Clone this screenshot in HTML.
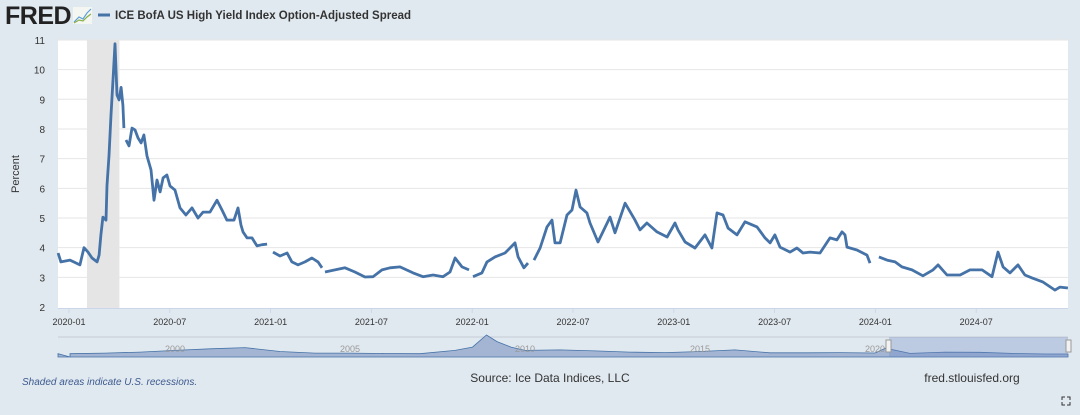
<!DOCTYPE html>
<html><head><meta charset="utf-8">
<style>
html,body{margin:0;padding:0;}
body{width:1080px;height:415px;background:#e1e9f0;font-family:"Liberation Sans",sans-serif;position:relative;overflow:hidden;}
svg{position:absolute;left:0;top:0;}
</style></head>
<body>
<svg width="1080" height="415">
  <g>
    <text x="5" y="24" font-size="25" font-weight="900" fill="#222" font-family="Liberation Sans" letter-spacing="-0.5">FRED</text>
    <g>
      <rect x="73" y="7" width="19" height="17" fill="#f4f6f2"/>
      <polyline points="74,22 79,17 83,19 87,13 91,9" fill="none" stroke="#5fa0d8" stroke-width="1.2"/>
      <polyline points="74,23 79,20 83,21 87,17 91,14" fill="none" stroke="#8ab04a" stroke-width="1.2"/>
    </g>
    <line x1="98" y1="15" x2="110" y2="15" stroke="#4572a7" stroke-width="3"/>
    <text x="115" y="19" font-size="11.5" font-weight="bold" fill="#333">ICE BofA US High Yield Index Option-Adjusted Spread</text>
  </g>
  <rect x="58" y="40" width="1010" height="268" fill="#fff"/>
  <g id="grid"></g>
  <rect id="recession" fill="#e5e5e5"/>
  <g id="yticks"></g>
  <g id="xticks"></g>
  <text x="0" y="0" transform="translate(19,174) rotate(-90)" text-anchor="middle" font-size="11" fill="#333">Percent</text>
  <path id="series" fill="none" stroke="#4572a7" stroke-width="2.8" stroke-linejoin="round"/>
  <line x1="58" y1="308.5" x2="1068" y2="308.5" stroke="#ccd6eb"/>
  <g>
    <rect x="58" y="335" width="1010" height="22" fill="#e1e9f0"/>
    <line x1="58" y1="337" x2="1068" y2="337" stroke="#c8ccd4"/>
    <path id="navArea" fill="#a3b5d3" stroke="#4572a7" stroke-width="0.8"/>
    <g id="navLabels"></g>
    <rect x="889" y="337" width="179" height="20" fill="rgba(102,133,194,0.3)"/>
    <rect x="886" y="340" width="5" height="12" fill="#f2f2f2" stroke="#999"/>
    <rect x="1066" y="340" width="5" height="12" fill="#f2f2f2" stroke="#999"/>
  </g>
  <text x="22" y="385" font-size="10" font-style="italic" fill="#3d5a8f">Shaded areas indicate U.S. recessions.</text>
  <text x="550" y="382" font-size="12" text-anchor="middle" fill="#333">Source: Ice Data Indices, LLC</text>
  <text x="972" y="382" font-size="12" text-anchor="middle" fill="#333">fred.stlouisfed.org</text>
  <g stroke="#333" stroke-width="1" fill="none">
    <polyline points="1062,400 1062,397 1065,397"/><polyline points="1067,397 1070,397 1070,400"/>
    <polyline points="1062,402 1062,405 1065,405"/><polyline points="1067,405 1070,405 1070,402"/>
  </g>
</svg>
<script>
// months since 2020-01
const months = [-0.65,-0.48,0.06,0.65,0.89,1.13,1.37,1.67,1.79,1.90,2.02,2.20,2.26,2.38,2.50,2.62,2.74,2.86,2.98,3.10,3.21,3.27,3.33,3.39,3.57,3.75,3.93,4.11,4.29,4.46,4.64,4.88,5.06,5.24,5.42,5.60,5.83,6.01,6.31,6.61,6.96,7.32,7.68,7.98,8.39,8.81,9.11,9.40,9.82,10.06,10.24,10.36,10.60,10.89,11.19,11.49,11.79,11.95,12.14,12.56,12.98,13.27,13.63,14.05,14.46,14.82,15.06,15.15,15.24,15.83,16.43,17.02,17.62,18.10,18.63,19.11,19.70,20.48,21.07,21.67,22.26,22.68,22.98,23.39,23.81,23.93,24.05,24.58,24.88,25.36,25.95,26.55,26.73,27.08,27.32,27.50,27.68,28.04,28.45,28.75,28.93,29.23,29.64,29.94,30.18,30.42,30.83,31.01,31.49,32.20,32.50,33.10,33.69,33.99,34.40,35.00,35.60,36.07,36.25,36.67,37.26,37.86,38.27,38.57,38.93,39.23,39.76,40.24,40.95,41.43,41.73,42.02,42.32,42.92,43.33,43.69,44.11,44.70,45.30,45.71,46.01,46.19,46.31,46.90,47.50,47.68,47.83,47.98,48.10,48.21,48.69,49.17,49.58,50.18,50.83,51.43,51.73,52.26,53.04,53.63,54.35,54.94,55.30,55.60,56.01,56.49,56.90,57.32,57.98,58.69,58.99,59.46];
const spread = [3.82,3.52,3.58,3.42,4.0,3.85,3.65,3.52,3.75,4.43,5.03,4.93,6.1,7.1,8.47,9.65,10.87,9.15,8.98,9.4,8.8,8.03,null,7.63,7.43,8.03,7.97,7.7,7.53,7.8,7.09,6.62,5.6,6.28,5.88,6.35,6.45,6.08,5.94,5.34,5.1,5.34,5.0,5.2,5.2,5.6,5.27,4.93,4.93,5.34,4.76,4.53,4.33,4.33,4.06,4.1,4.12,null,3.85,3.72,3.82,3.52,3.42,3.52,3.65,3.52,3.32,null,3.18,3.25,3.32,3.18,3.01,3.02,3.25,3.32,3.35,3.15,3.02,3.08,3.02,3.18,3.65,3.35,3.25,null,3.02,3.15,3.52,3.69,3.82,4.16,3.69,3.32,3.48,null,3.58,3.99,4.7,4.93,4.16,4.16,5.1,5.27,5.94,5.37,5.17,4.83,4.19,5.03,4.5,5.5,4.93,4.6,4.83,4.53,4.36,4.83,4.6,4.19,3.99,4.43,3.99,5.17,5.1,4.66,4.43,4.87,4.7,4.33,4.16,4.43,4.02,3.85,3.99,3.82,3.85,3.82,4.33,4.26,4.53,4.43,4.02,3.92,3.75,3.48,null,3.32,null,3.69,3.58,3.52,3.35,3.25,3.05,3.25,3.42,3.08,3.08,3.25,3.25,3.02,3.85,3.35,3.15,3.42,3.08,2.98,2.84,2.57,2.67,2.64];
const yTicks = [2,3,4,5,6,7,8,9,10,11];
const xTickLabels = ["2020-01","2020-07","2021-01","2021-07","2022-01","2022-07","2023-01","2023-07","2024-01","2024-07"];
const xTickMonths = [0,6,12,18,24,30,36,42,48,54];
const recession = [1.07,3.0];
const navYears = [1997,1998,1999,2000,2001,2002,2003,2004,2005,2006,2007,2008,2008.5,2008.9,2009.2,2009.6,2010,2011,2012,2013,2014,2015,2016,2017,2018,2019,2020,2020.3,2021,2022,2023,2024,2024.9];
const navValues = [3,3.5,4.5,6,7.5,8.5,5,3.5,3.5,3.2,3,6,9,20,14,9,6,6.5,5.5,4.5,4,5,6.5,3.8,3.8,4,3.6,8,3.3,4.5,4.3,3.2,2.7];
const navLabelYears = [2000,2005,2010,2015,2020];

const NS="http://www.w3.org/2000/svg";
const xS = m => 69 + m*16.8;
const yS = v => 307 - (v-2)*29.67;
const nx = yr => 70 + (yr-1997)*35;
const ny = v => 357 - v*1.1;
function mk(tag, attrs, parent){const e=document.createElementNS(NS,tag);for(const k in attrs)e.setAttribute(k,attrs[k]);parent.appendChild(e);return e;}

const grid=document.getElementById('grid'), yt=document.getElementById('yticks'), xt=document.getElementById('xticks');
yTicks.forEach(v=>{
  if(v>2){const l=mk('line',{x1:58,x2:1068,y1:yS(v),y2:yS(v),stroke:'#e6e6e6','stroke-width':1},grid);
  
  }
  const t=mk('text',{x:45,y:yS(v)+4,'font-size':10,fill:'#333','text-anchor':'end'},yt);
  t.textContent=v;
  
  
});
xTickMonths.forEach((m,i)=>{
  const l=mk('line',{x1:xS(m),x2:xS(m),y1:308,y2:313,stroke:'#ccd6eb'},xt);
  
  
  const t=mk('text',{x:xS(m),y:325,'font-size':9,fill:'#333','text-anchor':'middle'},xt);
  t.textContent=xTickLabels[i];
  
  
});
const rec=document.getElementById('recession');
rec.setAttribute('x',xS(recession[0]));rec.setAttribute('width',xS(recession[1])-xS(recession[0]));
rec.setAttribute('y',40);rec.setAttribute('height',268);

let d='',pen=false;
months.forEach((m,i)=>{const v=spread[i];if(v===null){pen=false;return;}d+=(pen?'L':'M')+xS(m).toFixed(1)+','+yS(v).toFixed(1);pen=true;});
document.getElementById('series').setAttribute('d',d);

let nd='M'+nx(navYears[0])+',357';
navYears.forEach((y,i)=>{nd+='L'+nx(y).toFixed(1)+','+ny(navValues[i]).toFixed(1);});
nd+='L1068,'+ny(navValues[navValues.length-1]).toFixed(1)+'L1068,357L58,357L58,'+ny(navValues[0])+'Z';
document.getElementById('navArea').setAttribute('d',nd);
const nl=document.getElementById('navLabels');
navLabelYears.forEach(y=>{
  const t=mk('text',{x:nx(y),y:352,'font-size':9,fill:'#999','text-anchor':'middle'},nl);
  t.textContent=y;
  
  
});
</script>
</body></html>
